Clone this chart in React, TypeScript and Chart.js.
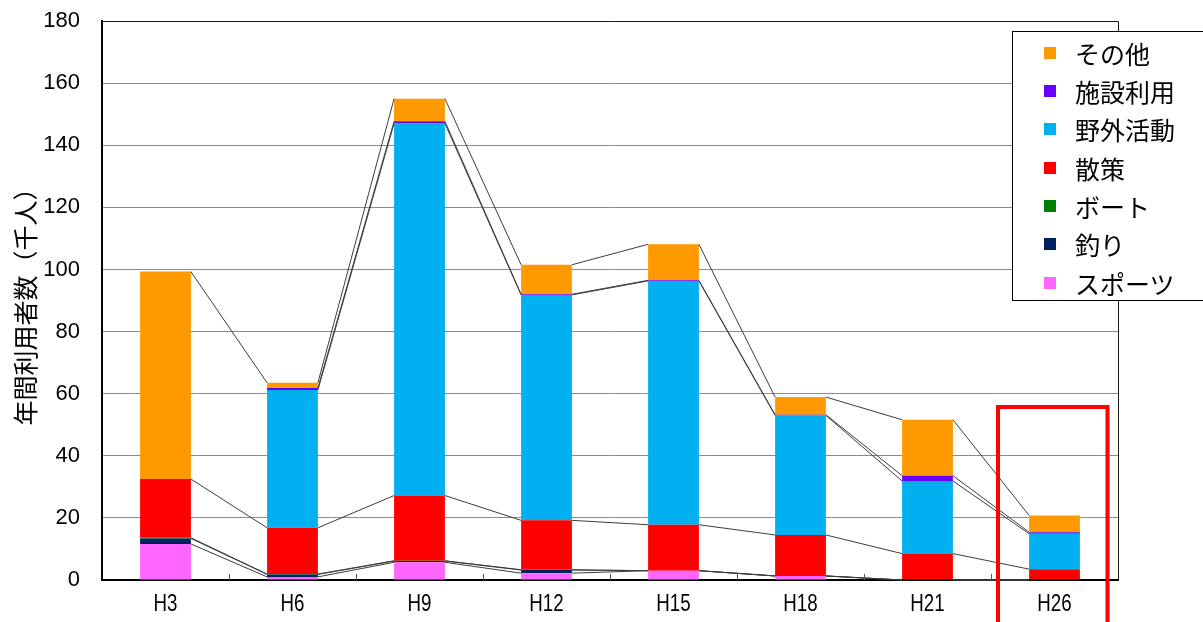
import React, { useEffect, useRef } from 'react';
import { Chart, registerables } from 'chart.js';

Chart.register(...registerables);

// Survey years (Heisei)
const categories = ['H3', 'H6', 'H9', 'H12', 'H15', 'H18', 'H21', 'H26'];

// Annual visitors by activity, thousands of people (null = not surveyed)
const sports = [11.6, 1.0, 5.7, 2.2, 3.0, 1.3, 0, 0];
const fishing = [1.8, 0.8, 0.4, 1.0, 0, 0, 0, 0];
const boat = [0.2, 0.1, 0.1, 0.1, 0, 0, 0, 0];
const walking = [18.9, 14.9, 21.0, 15.9, 14.8, 13.2, 8.5, 3.5];
const outdoor = [null, 44.4, 119.8, 72.6, 78.5, 38.5, 23.4, 11.4];
const facility = [null, 0.6, 0.7, 0.2, 0.2, 0.2, 1.7, 0.5];
const other = [66.8, 1.7, 7.3, 9.5, 11.6, 5.7, 18.0, 5.4];

// Stack order, bottom to top
const seriesNames = ['スポーツ', '釣り', 'ボート', '散策', '野外活動', '施設利用', 'その他'];
const seriesValues = [sports, fishing, boat, walking, outdoor, facility, other];
const seriesColors = ['#FF66FF', '#002060', '#008000', '#FF0000', '#00B0F0', '#6600FF', '#FF9900'];

const yMin = 0;
const yMax = 180;
const yStep = 20;
const yAxisTitle = '年間利用者数（千人）';

// Category framed by the red box, and the value its top edge sits at
const highlightCategory = 'H26';
const highlightTop = 55.7;

const CJK_FONT = '"Noto Sans CJK JP", "Noto Sans", sans-serif';
const NUM_FONT = '"Liberation Sans", Arial, sans-serif';

function stackTop(chart: any, dsIndex: number, i: number): number {
  let sum = 0;
  for (let k = 0; k <= dsIndex; k++) {
    const v = chart.data.datasets[k].data[i];
    if (v != null) sum += v;
  }
  return sum;
}

// Excel-style series lines joining the top of each segment between neighbouring bars
const seriesLinesPlugin = {
  id: 'seriesLines',
  afterDatasetsDraw(chart: any) {
    const { ctx } = chart;
    const yScale = chart.scales.y;
    const n = chart.data.labels.length;
    ctx.save();
    ctx.strokeStyle = '#3c3c3c';
    ctx.lineWidth = 1;
    chart.data.datasets.forEach((ds: any, k: number) => {
      const meta = chart.getDatasetMeta(k);
      for (let i = 0; i < n - 1; i++) {
        if (ds.data[i] == null || ds.data[i + 1] == null) continue;
        const a = meta.data[i] as any;
        const b = meta.data[i + 1] as any;
        const xa = a.x + a.width / 2;
        const xb = b.x - b.width / 2;
        ctx.beginPath();
        ctx.moveTo(xa, yScale.getPixelForValue(stackTop(chart, k, i)));
        ctx.lineTo(xb, yScale.getPixelForValue(stackTop(chart, k, i + 1)));
        ctx.stroke();
      }
    });
    ctx.restore();
  },
};

// Plot frame, inner tick marks, condensed category labels and the highlight box
const framePlugin = {
  id: 'frame',
  afterDraw(chart: any) {
    const { ctx, chartArea } = chart;
    const xScale = chart.scales.x;
    const yScale = chart.scales.y;
    ctx.save();
    ctx.strokeStyle = '#1a1a1a';
    ctx.lineWidth = 1;
    ctx.beginPath();
    ctx.moveTo(chartArea.left, chartArea.top + 0.5);
    ctx.lineTo(chartArea.right + 0.5, chartArea.top + 0.5);
    ctx.lineTo(chartArea.right + 0.5, chartArea.bottom);
    ctx.stroke();

    ctx.strokeStyle = '#555';
    const labels = chart.data.labels as string[];
    const n = labels.length;
    for (let i = 1; i < n; i++) {
      const x = Math.round(xScale.getPixelForValue(i - 0.5)) + 0.5;
      ctx.beginPath();
      ctx.moveTo(x, chartArea.bottom);
      ctx.lineTo(x, chartArea.bottom - 6);
      ctx.stroke();
    }

    // category labels in a narrow face
    ctx.fillStyle = '#000';
    ctx.font = `24px ${NUM_FONT}`;
    ctx.textAlign = 'center';
    ctx.textBaseline = 'middle';
    labels.forEach((lab, i) => {
      ctx.save();
      ctx.translate(xScale.getPixelForValue(i), chartArea.bottom + 24);
      ctx.scale(0.78, 1);
      ctx.fillText(lab, 0, 0);
      ctx.restore();
    });

    const idx = labels.indexOf(highlightCategory);
    if (idx >= 0) {
      const cx = xScale.getPixelForValue(idx);
      const top = yScale.getPixelForValue(highlightTop);
      ctx.strokeStyle = '#FF0000';
      ctx.lineWidth = 4;
      ctx.strokeRect(cx - 56.5, top, 109.5, chart.height + 20 - top);
    }
    ctx.restore();
  },
};

export default function App() {
  const canvasRef = useRef<HTMLCanvasElement | null>(null);

  useEffect(() => {
    if (!canvasRef.current) return;
    const chart = new Chart(canvasRef.current, {
      type: 'bar',
      data: {
        labels: categories,
        datasets: seriesNames.map((name, k) => ({
          label: name,
          data: seriesValues[k] as any,
          backgroundColor: seriesColors[k],
          borderWidth: 0,
          barPercentage: 0.5,
          categoryPercentage: 0.8,
        })),
      },
      options: {
        responsive: false,
        animation: false,
        devicePixelRatio: 1,
        layout: { padding: { top: 21, right: 85, left: 0, bottom: 0 } },
        plugins: {
          legend: { display: false },
          tooltip: { enabled: false },
        },
        scales: {
          x: {
            stacked: true,
            grid: { display: false, drawTicks: false },
            border: { display: true, color: '#000', width: 2 },
            ticks: { display: false },
            afterFit: (s: any) => {
              s.height = 42;
              s.paddingLeft = 0;
              s.paddingRight = 0;
            },
          },
          y: {
            stacked: true,
            min: yMin,
            max: yMax,
            ticks: {
              stepSize: yStep,
              color: '#000',
              padding: 22,
              font: { family: NUM_FONT, size: 22 },
            },
            grid: { color: '#8c8c8c', drawTicks: false },
            border: { color: '#000', width: 2 },
            title: {
              display: true,
              text: yAxisTitle,
              color: '#000',
              font: { family: CJK_FONT, size: 25 },
              padding: { top: 10, bottom: 0 },
            },
            afterFit: (s: any) => {
              s.width = 102;
              s.paddingTop = 0;
              s.paddingBottom = 0;
            },
          },
        },
      } as any,
      plugins: [seriesLinesPlugin, framePlugin],
    });
    return () => chart.destroy();
  }, []);

  const legendOrder = seriesNames.map((_, k) => k).reverse();

  return (
    <div
      style={{
        position: 'fixed',
        left: 0,
        top: 0,
        width: 1203,
        height: 622,
        overflow: 'hidden',
        background: '#fff',
      }}
    >
      <canvas ref={canvasRef} width={1203} height={622} style={{ position: 'absolute', left: 0, top: 0 }} />
      <div
        style={{
          position: 'absolute',
          left: 1012,
          top: 31,
          width: 240,
          height: 270,
          border: '1px solid #000',
          background: '#fff',
          boxSizing: 'border-box',
          fontFamily: CJK_FONT,
          fontSize: 25,
          color: '#000',
        }}
      >
        {legendOrder.map((k, row) => (
          <div
            key={seriesNames[k]}
            style={{
              position: 'absolute',
              left: 0,
              top: 20.7 + 38.3 * row - 19,
              height: 38,
              display: 'flex',
              alignItems: 'center',
              whiteSpace: 'nowrap',
            }}
          >
            <span
              style={{
                display: 'inline-block',
                width: 12,
                height: 12,
                marginLeft: 31,
                marginRight: 19,
                background: seriesColors[k],
              }}
            />
            <span style={{ lineHeight: '38px' }}>{seriesNames[k]}</span>
          </div>
        ))}
      </div>
    </div>
  );
}
